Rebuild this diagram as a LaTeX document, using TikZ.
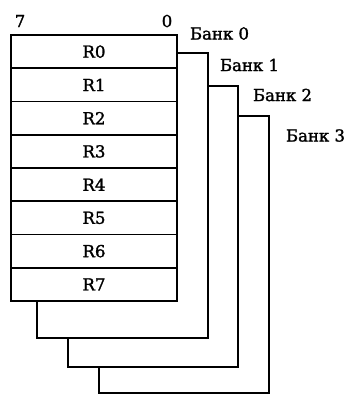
\documentclass[tikz,border=0pt]{standalone}
\usepackage{fontspec}
\setmainfont[FakeBold=1.6]{DejaVu Serif}
\begin{document}
\begin{tikzpicture}[x=1pt,y=-1pt,
  frame/.style={draw=black,line width=1.8pt,fill=white},
  regrow/.style={draw=black,line width=1.8pt,minimum width=166pt,minimum height=33.25pt,inner sep=0pt,outer sep=0pt,anchor=north west,font=\fontsize{16.5}{16.5}\selectfont},
  lbl/.style={inner sep=0pt,font=\fontsize{16.5}{16.5}\selectfont}]
\useasboundingbox (0,0) rectangle (347,394);
% bank frames, back to front
\draw[frame] (99,116) rectangle (269,393);
\draw[frame] (68,86) rectangle (238,367);
\draw[frame] (37,53) rectangle (208,338);
\fill[white] (11,35) rectangle (177,301);
% bank 0 registers
\foreach \i in {0,...,7}{
  \node[regrow] (r\i) at (11,{35+33.25*\i}) {R\i};
}
% labels
\node[lbl] (b7) at (20,21) {7};
\node[lbl] (b0) at (167,21) {0};
\node[lbl] (k0) at (219.5,33.5) {Банк 0};
\node[lbl] (k1) at (249.5,65) {Банк 1};
\node[lbl] (k2) at (282.5,95) {Банк 2};
\node[lbl] (k3) at (315.5,135.5) {Банк 3};
\end{tikzpicture}
\end{document}
